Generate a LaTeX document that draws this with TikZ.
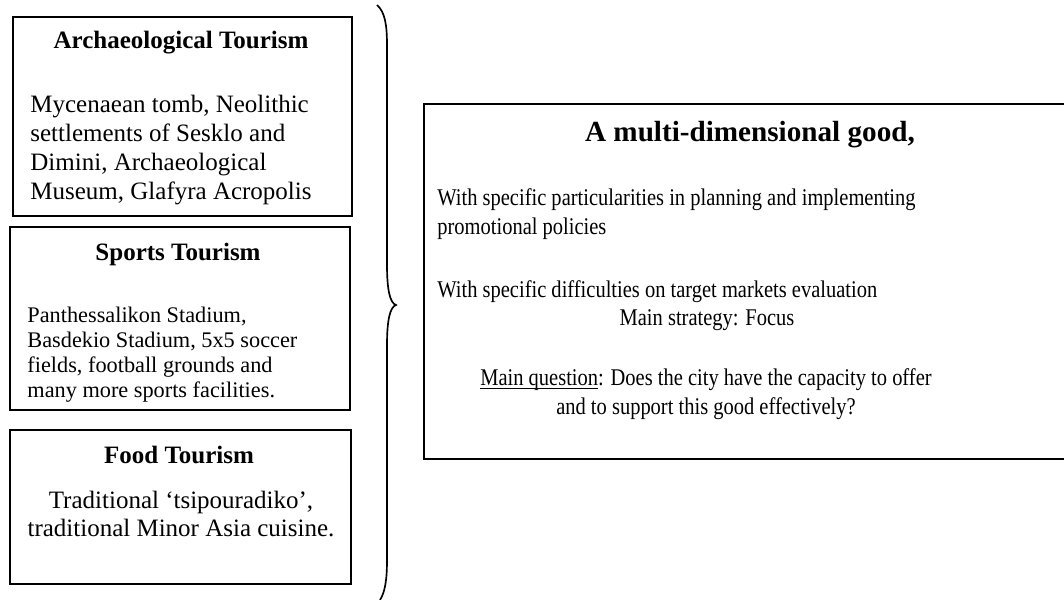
\documentclass[tikz,border=0pt]{standalone}
\usepackage{fontspec}
\setmainfont{Liberation Serif}
\newfontfamily\narrowSerif[FakeStretch=0.855]{Liberation Serif}
\usetikzlibrary{positioning}

\begin{document}
\begin{tikzpicture}[x=0.48pt,y=-0.48pt,
    tourBox/.style={shape=rectangle,draw=black,line width=0.9pt,anchor=north west,inner sep=0pt},
    titleText/.style={font=\bfseries\fontsize{12}{14}\selectfont,inner sep=0pt},
    bodyText/.style={font=\fontsize{12}{13.9}\selectfont,align=left,inner sep=0pt},
    goodText/.style={font=\narrowSerif\fontsize{11.5}{13.9}\selectfont,align=left,inner sep=0pt},
    braceLine/.style={draw=black,line width=0.8pt}]
    \useasboundingbox (0,0) rectangle (1064,600);
    \clip (0,0) rectangle (1064,600);

    \node[tourBox,minimum width=162.7pt,minimum height=95.5pt] (arch) at (12,16) {};
    \node[tourBox,minimum width=163.2pt,minimum height=87.8pt] (sport) at (9,226) {};
    \node[tourBox,minimum width=163.7pt,minimum height=73.9pt] (food) at (9,429) {};
    \node[tourBox,minimum width=313pt,minimum height=170.4pt] (good) at (423,103) {};

    \node[titleText] (archTitle) at (181,43) {Archaeological Tourism};
    \node[bodyText,anchor=west] (archBody) at (30,150) {Mycenaean tomb, Neolithic\\settlements of Sesklo and\\Dimini, Archaeological\\Museum, Glafyra Acropolis};
    \node[titleText] (sportTitle) at (178,254) {Sports Tourism};
    \node[bodyText,anchor=west,font=\fontsize{10.7}{12}\selectfont] (sportBody) at (27,355) {Panthessalikon Stadium,\\Basdekio Stadium, 5x5 soccer\\fields, football grounds and\\many more sports facilities.};
    \node[titleText] (foodTitle) at (179,455) {Food Tourism};
    \node[bodyText,align=center] (foodBody) at (181,514) {Traditional ‘tsipouradiko’,\\traditional Minor Asia cuisine.};

    \coordinate (braceTop) at (377,5);
    \coordinate (braceTip) at (396,305);
    \coordinate (braceBot) at (380,600);
    \draw[braceLine] (braceTop) .. controls (385,12) and (387,25) .. (387,45) -- (387,265)
        .. controls (387,290) and (390,303) .. (braceTip)
        .. controls (390,307) and (387,320) .. (387,345) -- (387,560)
        .. controls (387,580) and (385,592) .. (braceBot);

    \node[titleText,font=\bfseries\fontsize{14}{17}\selectfont] (goodTitle) at (750,135) {A multi-dimensional good,};
    \node[goodText,anchor=west] (policyText) at (437,214) {With specific particularities in planning and implementing\\promotional policies};
    \node[goodText,anchor=west] (marketText) at (437,292) {With specific difficulties on target markets evaluation};
    \node[goodText] (strategyText) at (707,320) {Main strategy: Focus};
    \node[goodText,align=center] (questionText) at (706,394) {\underline{\smash{Main question}}: Does the city have the capacity to offer\\and to support this good effectively?};
\end{tikzpicture}
\end{document}
